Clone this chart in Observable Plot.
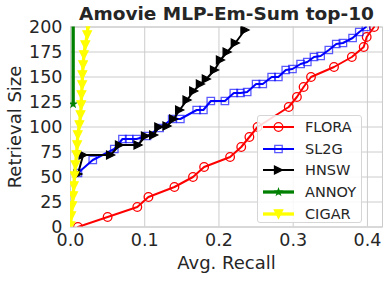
<!DOCTYPE html>
<html><head><meta charset="utf-8">
<script src="https://cdn.jsdelivr.net/npm/d3@7"></script>
<script src="https://cdn.jsdelivr.net/npm/@observablehq/plot@0.6"></script>
<style>
body{margin:0;background:#fff;font-family:"DejaVu Sans",sans-serif;}
#wrap{position:relative;width:388px;height:281px;}
#legend{position:absolute;left:257px;top:115px;width:105px;height:108px;box-sizing:border-box;border:1px solid #d6d6d6;border-radius:3px;background:rgba(255,255,255,0.85);font-size:14.5px;color:#262626;}
.row{position:absolute;left:0;height:22px;display:flex;align-items:center;}
.row svg{margin-left:4px;}
.row span{margin-left:10px;}
</style></head><body><div id="wrap"></div>
<script>
const titleText = "Amovie MLP-Em-Sum top-10";
const xLabel = "Avg. Recall";
const yLabel = "Retrieval Size";
const xTicks = [0, 0.1, 0.2, 0.3, 0.4];
const yTicks = [0, 25, 50, 75, 100, 125, 150, 175, 200];
const seriesNames = ["FLORA", "SL2G", "HNSW", "ANNOY", "CIGAR"];

const floraX = [0.010,0.050,0.090,0.105,0.140,0.165,0.180,0.215,0.230,0.241,0.252,0.294,0.305,0.314,0.324,0.355,0.379,0.395,0.399,0.409];
const floraY = [0,10,20,30,40,50,60,70,80,90,100,120,130,140,150,160,170,180,190,200];

const sl2gX = [0.010,0.030,0.059,0.070,0.079,0.089,0.103,0.120,0.137,0.148,0.170,0.179,0.189,0.208,0.220,0.229,0.238,0.250,0.259,0.271,0.280,0.290,0.299,0.310,0.319,0.328,0.337,0.348,0.358,0.367,0.380,0.389,0.398];
const sl2gY = [54,67,78,88,88,88,91,99,108,108,117,117,126,126,134,134,135,143,143,150,150,157,158,163,165,170,171,177,183,184,189,195,200];

const hnswX = [0.010,0.017,0.054,0.066,0.091,0.101,0.112,0.119,0.130,0.139,0.147,0.157,0.166,0.175,0.183,0.194,0.202,0.211,0.222,0.235];
const hnswY = [53,72,72,82,82,91,92,100,101,108,117,127,136,143,148,157,167,175,184,197];

const annoyX = [0.0036,0.0036];
const annoyY = [123,210];

const cigarX = [0.000,0.001,0.0023,0.0036,0.0045,0.0054,0.0067,0.0081,0.009,0.0098,0.012,0.0135,0.0144,0.0148,0.0157,0.016,0.017,0.018,0.020,0.0225,0.0235];
const cigarY = [1,11,21,31,41,51,62,72,82,92,102,112,122,132,142,152,162,172,182,192,201];

const rightTri = {draw(ctx, size){const h=Math.sqrt(size/Math.PI); ctx.moveTo(-h,-h); ctx.lineTo(h,0); ctx.lineTo(-h,h); ctx.closePath();}};
const downTri = {draw(ctx, size){const h=Math.sqrt(size/Math.PI); ctx.moveTo(-h,-h); ctx.lineTo(h,-h); ctx.lineTo(0,h); ctx.closePath();}};

const zip = (xs, ys) => xs.map((x, i) => ({x, y: ys[i]}));
const styles = [
  {data: zip(floraX, floraY), color: "#ff0000", sw: 2, symbol: "circle", r: 4.3, fill: "none", mstroke: "#ff0000", mop: 1},
  {data: zip(sl2gX, sl2gY), color: "#0000ff", sw: 2, symbol: "square", r: 4.2, fill: "none", mstroke: "#0000ff", mop: 0.65},
  {data: zip(hnswX, hnswY), color: "#000000", sw: 2, symbol: rightTri, r: 4, fill: "#000000", mstroke: "#000000", mop: 1},
  {data: zip(annoyX, annoyY), color: "#008000", sw: 3.3, symbol: "star", r: 1.8, fill: "#008000", mstroke: "#008000", mop: 1},
  {data: zip(cigarX, cigarY), color: "#ffff00", sw: 3.3, symbol: downTri, r: 4.2, fill: "#ffff00", mstroke: "#ffff00", mop: 1}
];

const marks = [
  Plot.gridX(xTicks, {stroke: "#cccccc", strokeOpacity: 1, strokeWidth: 1}),
  Plot.gridY(yTicks, {stroke: "#cccccc", strokeOpacity: 1, strokeWidth: 1}),
  Plot.frame({stroke: "#cccccc", strokeWidth: 1})
];
for (const s of styles) {
  marks.push(Plot.line(s.data, {x: "x", y: "y", stroke: s.color, strokeWidth: s.sw, clip: true}));
  marks.push(Plot.dot(s.data, {x: "x", y: "y", symbol: s.symbol, r: s.r, fill: s.fill, stroke: s.mstroke, strokeOpacity: s.mop, strokeWidth: 1.3, clip: true}));
}
marks.push(
  Plot.axisX(xTicks, {tickSize: 0, tickPadding: 7, tickFormat: d3.format(".1f"), label: null, fontSize: 17.5}),
  Plot.axisY(yTicks, {tickSize: 0, tickPadding: 8, label: null, fontSize: 17.5}),
  Plot.text([titleText], {text: d => d, frameAnchor: "top", dy: -13, lineAnchor: "middle", textAnchor: "middle", fontWeight: "bold", fontSize: 18.5}),
  Plot.text([xLabel], {text: d => d, frameAnchor: "bottom", dy: 36.5, lineAnchor: "middle", textAnchor: "middle", fontSize: 18}),
  Plot.text([yLabel], {text: d => d, frameAnchor: "left", dx: -55.5, rotate: -90, lineAnchor: "middle", textAnchor: "middle", fontSize: 18})
);

const chart = Plot.plot({
  width: 388, height: 281,
  marginLeft: 70, marginRight: 6, marginTop: 26.5, marginBottom: 54.5,
  x: {domain: [0, 0.4203]},
  y: {domain: [0, 200]},
  style: {fontFamily: "DejaVu Sans", color: "#262626", background: "white", overflow: "visible"},
  marks
});
const wrap = document.getElementById("wrap");
wrap.appendChild(chart);

// legend
const legend = d3.select(wrap).append("div").attr("id", "legend");
styles.forEach((s, i) => {
  const row = legend.append("div").attr("class", "row").style("top", (i * 21.7) + "px");
  const svg = row.append("svg").attr("width", 33).attr("height", 14);
  svg.append("line").attr("x1", 1).attr("x2", 32).attr("y1", 7).attr("y2", 7).attr("stroke", s.color).attr("stroke-width", s.sw);
  const symType = {circle: d3.symbolCircle, square: d3.symbolSquare, star: d3.symbolStar}[s.symbol] || s.symbol;
  svg.append("path").attr("transform", "translate(16.5,7)")
    .attr("d", d3.symbol(symType, Math.PI * s.r * s.r)())
    .attr("fill", s.fill).attr("stroke", s.mstroke).attr("stroke-opacity", s.mop).attr("stroke-width", 1.3);
  row.append("span").text(seriesNames[i]);
});
</script>
</body></html>
